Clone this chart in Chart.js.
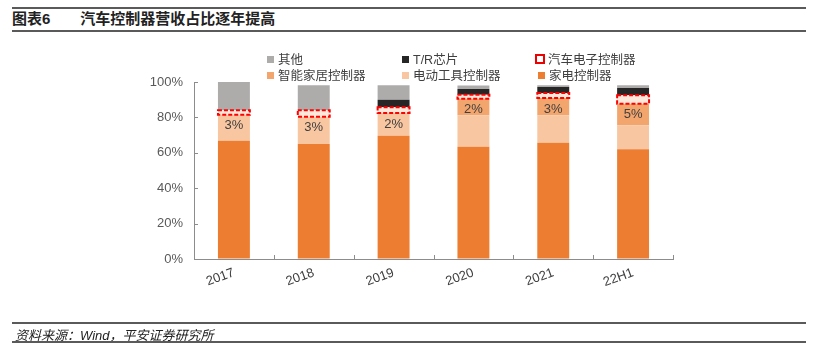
<!DOCTYPE html>
<html>
<head>
<meta charset="utf-8">
<script src="https://cdn.jsdelivr.net/npm/chart.js@4/dist/chart.umd.min.js"></script>
<style>
body { margin: 0; background: #fff; }
#wrap { position: relative; width: 816px; height: 361px; overflow: hidden; font-family: "Liberation Sans", "Noto Sans CJK SC", sans-serif; }
#chart { position: absolute; left: 0; top: 0; }
.rule { position: absolute; left: 12px; width: 794px; height: 2px; background: #5a5a5a; }
#title { position: absolute; left: 12px; top: 11px; font-size: 15px; line-height: 16px; font-weight: bold; color: #222; white-space: nowrap; }
#title span { margin-left: 30px; }
#source { position: absolute; left: 15px; top: 325px; font-size: 13px; font-style: italic; color: #222; }
.leg { position: absolute; font-size: 12.5px; color: #404040; white-space: nowrap; line-height: 14px; }
.leg i { display: inline-block; width: 7px; height: 7px; margin-right: 4px; vertical-align: 1px; }
.leg i.box { width: 6px; height: 6px; border: 2px solid #e00; background: #fff; margin-right: 3px; vertical-align: 0; }
</style>
</head>
<body>
<div id="wrap">
  <div class="rule" style="top:7px"></div>
  <div id="title">图表6<span>汽车控制器营收占比逐年提高</span></div>
  <div class="rule" style="top:30px"></div>
  <canvas id="chart" width="816" height="361"></canvas>
  <div class="leg" style="left:267px;top:53px"><i style="background:#aeabab"></i>其他</div>
  <div class="leg" style="left:402px;top:53px"><i style="background:#262626"></i>T/R芯片</div>
  <div class="leg" style="left:535px;top:53px"><i class="box"></i>汽车电子控制器</div>
  <div class="leg" style="left:267px;top:69px"><i style="background:#f3a56e"></i>智能家居控制器</div>
  <div class="leg" style="left:402px;top:69px"><i style="background:#f8c6a0"></i>电动工具控制器</div>
  <div class="leg" style="left:538px;top:69px"><i style="background:#ed7d31"></i>家电控制器</div>
  <div class="rule" style="top:322px"></div>
  <div id="source">资料来源：Wind，平安证券研究所</div>
  <div class="rule" style="top:341px"></div>
</div>
<script>
const Years = ["2017", "2018", "2019", "2020", "2021", "22H1"];
const HomeValue = [66.8, 65.0, 69.7, 63.4, 65.7, 62.0];
const ToolValue = [14.7, 15.4, 12.8, 17.8, 15.5, 13.5];
const SmartValue = [0, 0, 0, 9.4, 9.8, 12.2];
const AutoValue = [2.5, 3.6, 3.2, 2.2, 2.8, 4.8];
const TRValue = [0, 0, 4.3, 3.2, 3.4, 4.1];
const OtherValue = [16.0, 14.1, 8.1, 2.0, 0.9, 1.5];
const AutoLabel = ["3%", "3%", "2%", "2%", "3%", "5%"];

const AxisColor = "#8c8c8c";

// dashed red frame on the auto segment, share labels and inside tick marks
const extras = {
    id: 'extras',
    afterDatasetsDraw(chart) {
        const ctx = chart.ctx;
        const meta = chart.getDatasetMeta(3);
        ctx.save();
        meta.data.forEach(function (bar, i) {
            const p = bar.getProps(['x', 'y', 'base', 'width'], true);
            const left = p.x - p.width / 2;
            ctx.strokeStyle = "#ff0000";
            ctx.lineWidth = 2;
            ctx.setLineDash([4, 2]);
            ctx.strokeRect(left, p.y, p.width, p.base - p.y);
            ctx.setLineDash([]);
            ctx.fillStyle = "#404040";
            ctx.font = "13px 'Liberation Sans'";
            ctx.textAlign = "center";
            ctx.textBaseline = "middle";
            ctx.fillText(AutoLabel[i], p.x, p.base + 11);
        });
        const a = chart.chartArea;
        ctx.strokeStyle = AxisColor;
        ctx.lineWidth = 1;
        ctx.beginPath();
        const step = (a.right - a.left) / Years.length;
        for (let i = 1; i <= Years.length; i++) {
            const x = Math.round(a.left + i * step) + 0.5;
            ctx.moveTo(x, a.bottom);
            ctx.lineTo(x, a.bottom - 4);
        }
        const ys = chart.scales.y;
        ys.ticks.forEach(function (t) {
            const y = Math.round(ys.getPixelForValue(t.value)) + 0.5;
            ctx.moveTo(a.left, y);
            ctx.lineTo(a.left + 4, y);
        });
        ctx.stroke();
        ctx.restore();
    }
};

function set(label, data, color) {
    return { label: label, data: data, backgroundColor: color, barPercentage: 0.4, categoryPercentage: 1.0 };
}

new Chart(document.getElementById("chart"), {
    type: 'bar',
    data: {
        labels: Years,
        datasets: [
            set("家电控制器", HomeValue, "#ed7d31"),
            set("电动工具控制器", ToolValue, "#f8c6a0"),
            set("智能家居控制器", SmartValue, "#f3a56e"),
            set("汽车电子控制器", AutoValue, "#fce9dc"),
            set("T/R芯片", TRValue, "#262626"),
            set("其他", OtherValue, "#aeabab")
        ]
    },
    options: {
        responsive: false,
        animation: false,
        layout: { padding: { left: 0, right: 143, top: 82, bottom: 0 } },
        plugins: {
            legend: { display: false },
            tooltip: { enabled: false }
        },
        scales: {
            x: {
                stacked: true,
                afterFit: function (s) { s.height = 102; },
                grid: { display: true, drawOnChartArea: false, drawTicks: false, color: AxisColor },
                border: { color: AxisColor },
                ticks: {
                    color: "#404040",
                    font: { family: "Liberation Sans", size: 13 },
                    minRotation: 20,
                    maxRotation: 20,
                    padding: 6
                }
            },
            y: {
                stacked: true,
                min: 0,
                max: 100,
                afterFit: function (s) { s.width = 194; },
                grid: { display: true, drawOnChartArea: false, drawTicks: false, color: AxisColor },
                border: { color: AxisColor },
                ticks: {
                    stepSize: 20,
                    color: "#595959",
                    font: { family: "Liberation Sans", size: 13 },
                    padding: 11,
                    callback: function (v) { return v + "%"; }
                }
            }
        }
    },
    plugins: [extras]
});
</script>
</body>
</html>
